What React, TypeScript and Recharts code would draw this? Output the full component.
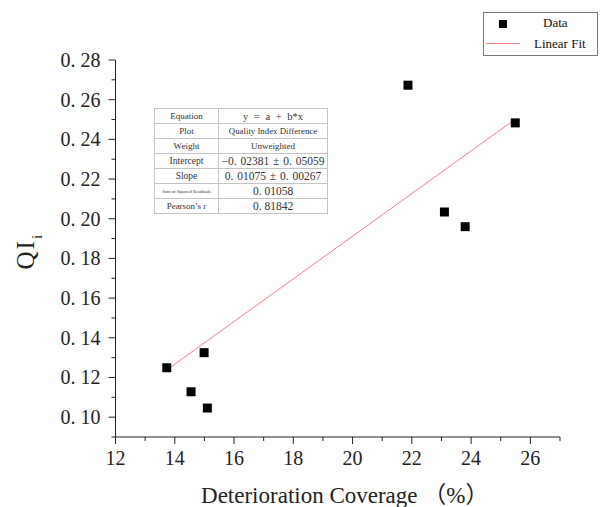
import React from 'react';
import { ScatterChart, Scatter, XAxis, YAxis, Legend } from 'recharts';

// ---- data ----
const coverage = [13.73, 14.55, 14.99, 15.1, 21.87, 23.1, 23.8, 25.49];
const qi = [0.1249, 0.1128, 0.1325, 0.1046, 0.2673, 0.2034, 0.196, 0.2483];
const fitX = [13.73, 25.49];
const fitY = [0.1238, 0.2502];

const xTicks = [12, 13, 14, 15, 16, 17, 18, 19, 20, 21, 22, 23, 24, 25, 26, 27];
const xMajorLabels: Record<number, string> = { 12: '12', 14: '14', 16: '16', 18: '18', 20: '20', 22: '22', 24: '24', 26: '26' };
const yTicks = [0.09, 0.1, 0.11, 0.12, 0.13, 0.14, 0.15, 0.16, 0.17, 0.18, 0.19, 0.2, 0.21, 0.22, 0.23, 0.24, 0.25, 0.26, 0.27, 0.28];
const yTickLabels = ['', '0. 10', '', '0. 12', '', '0. 14', '', '0. 16', '', '0. 18', '', '0. 20', '', '0. 22', '', '0. 24', '', '0. 26', '', '0. 28'];

const seriesNames = ['Data', 'Linear Fit'];
const xTitle = 'Deterioration Coverage （%）';

const tableRows: [string, string][] = [
  ['Equation', 'y = a + b*x'],
  ['Plot', 'Quality Index Difference'],
  ['Weight', 'Unweighted'],
  ['Intercept', '−0. 02381 ± 0. 05059'],
  ['Slope', '0. 01075 ± 0. 00267'],
  ['Sum of Squared Residuals', '0. 01058'],
  ['Pearson\u2019s r', '0. 81842'],
];
const tableLeftSizes = [9, 9, 9, 9.5, 9.5, 4.6, 9];
const tableRightSizes = [10.5, 8.8, 9, 11.5, 11.5, 11.5, 11.5];
const tableWordSpacing = [3, 0, 0, 1, 1, 0, 0];

const points = coverage.map((x, i) => ({ x, y: qi[i] }));
const fitPoints = fitX.map((x, i) => ({ x, y: fitY[i] }));

const SERIF = '"Liberation Serif", "Times New Roman", "Noto Sans CJK SC", serif';
const AXIS = '#222';
const FIT = '#ef8383';

const XTick = (props: any) => {
  const { x, y, payload } = props;
  const v = payload.value;
  const label = xMajorLabels[v];
  const major = label !== undefined;
  return (
    <g>
      <line x1={x} x2={x} y1={y} y2={y + (major ? 7 : 4)} stroke={AXIS} strokeWidth={1} />
      {major && (
        <text x={x} y={y + 28} textAnchor="middle" fontFamily={SERIF} fontSize={20} fill="#222">
          {label}
        </text>
      )}
    </g>
  );
};

const YTick = (props: any) => {
  const { x, y, index } = props;
  const label = yTickLabels[index] ?? '';
  const major = label !== '';
  return (
    <g>
      <line x1={x - (major ? 7 : 4)} x2={x} y1={y} y2={y} stroke={AXIS} strokeWidth={1} />
      {major && (
        <text x={x - 15} y={y} dy="0.35em" textAnchor="end" fontFamily={SERIF} fontSize={20} fill="#222">
          {label}
        </text>
      )}
    </g>
  );
};

const Square = (props: any) => {
  const { cx, cy } = props;
  if (cx == null || cy == null) return <g />;
  return <rect x={cx - 4.5} y={cy - 4.5} width={9} height={9} fill="#000" />;
};

const LegendBox = () => (
  <div
    style={{
      position: 'relative',
      width: 115,
      height: 44,
      border: '1px solid #777',
      background: '#fff',
      boxSizing: 'border-box',
      fontFamily: SERIF,
      fontSize: 13,
      color: '#111',
    }}
  >
    <div style={{ position: 'absolute', left: 15, top: 7, width: 8, height: 8, background: '#000' }} />
    <div style={{ position: 'absolute', left: 59, top: 2, lineHeight: '16px' }}>{seriesNames[0]}</div>
    <div style={{ position: 'absolute', left: 2, top: 30, width: 34, height: 1, background: FIT }} />
    <div style={{ position: 'absolute', left: 50, top: 23, lineHeight: '16px' }}>{seriesNames[1]}</div>
  </div>
);

const FitTable = () => (
  <table
    style={{
      position: 'absolute',
      left: 154,
      top: 108,
      width: 173,
      borderCollapse: 'collapse',
      background: '#fff',
      fontFamily: SERIF,
      color: '#333',
      tableLayout: 'fixed',
      border: '1px solid #999',
    }}
  >
    <colgroup>
      <col style={{ width: 64 }} />
      <col style={{ width: 109 }} />
    </colgroup>
    <tbody>
      {tableRows.map((r, i) => (
        <tr key={i} style={{ height: 15 }}>
          <td
            style={{
              border: '1px solid #c4c4c4',
              padding: 0,
              textAlign: 'center',
              fontSize: tableLeftSizes[i],
              lineHeight: '13px',
              whiteSpace: 'nowrap',
              overflow: 'hidden',
            }}
          >
            {r[0]}
          </td>
          <td
            style={{
              border: '1px solid #c4c4c4',
              padding: 0,
              textAlign: 'center',
              fontSize: tableRightSizes[i],
              lineHeight: '13px',
              whiteSpace: 'pre',
              wordSpacing: tableWordSpacing[i],
              overflow: 'hidden',
            }}
          >
            {r[1]}
          </td>
        </tr>
      ))}
    </tbody>
  </table>
);

export default function App() {
  return (
    <div style={{ position: 'absolute', left: 0, top: 0, width: 602, height: 507, background: '#fff' }}>
      <ScatterChart width={602} height={507} margin={{ top: 60, right: 42, bottom: 0, left: 0 }}>
        <XAxis
          type="number"
          dataKey="x"
          domain={[12, 27]}
          ticks={xTicks}
          interval={0}
          height={70}
          tickSize={0}
          tickMargin={0}
          tickLine={false}
          axisLine={{ stroke: AXIS, strokeWidth: 1 }}
          tick={<XTick />}
          allowDataOverflow
          label={{
            content: (p: any) => {
              const vb = p.viewBox || {};
              return (
                <text
                  x={(vb.x ?? 0) + (vb.width ?? 0) / 2 + 7}
                  y={(vb.y ?? 0) + 66}
                  textAnchor="middle"
                  fontFamily={SERIF}
                  fontSize={23}
                  fill="#222"
                >
                  {xTitle}
                </text>
              );
            },
          }}
        />
        <YAxis
          type="number"
          dataKey="y"
          domain={[0.09, 0.28]}
          ticks={yTicks}
          interval={0}
          width={115.5}
          tickSize={0}
          tickMargin={0}
          tickLine={false}
          axisLine={{ stroke: AXIS, strokeWidth: 1 }}
          tick={<YTick />}
          allowDataOverflow
          label={{
            content: (p: any) => {
              const vb = p.viewBox || {};
              const cy = (vb.y ?? 0) + (vb.height ?? 0) / 2 + 21;
              return (
                <text
                  transform={`translate(${(vb.x ?? 0) + 34}, ${cy}) rotate(-90)`}
                  textAnchor="start"
                  fontFamily={SERIF}
                  fontSize={25}
                  letterSpacing={2}
                  fill="#222"
                >
                  QI
                  <tspan dy={8} fontSize={15}>
                    i
                  </tspan>
                </text>
              );
            },
          }}
        />
        <Scatter
          name={seriesNames[1]}
          data={fitPoints}
          line={{ stroke: FIT, strokeWidth: 1 }}
          shape={() => <g />}
          isAnimationActive={false}
          legendType="line"
        />
        <Scatter name={seriesNames[0]} data={points} shape={<Square />} isAnimationActive={false} legendType="square" />
        <Legend
          layout="vertical"
          align="center"
          verticalAlign="middle"
          content={() => <LegendBox />}
          wrapperStyle={{ left: 483, top: 12, width: 115, height: 44 }}
        />
      </ScatterChart>
      <FitTable />
    </div>
  );
}
